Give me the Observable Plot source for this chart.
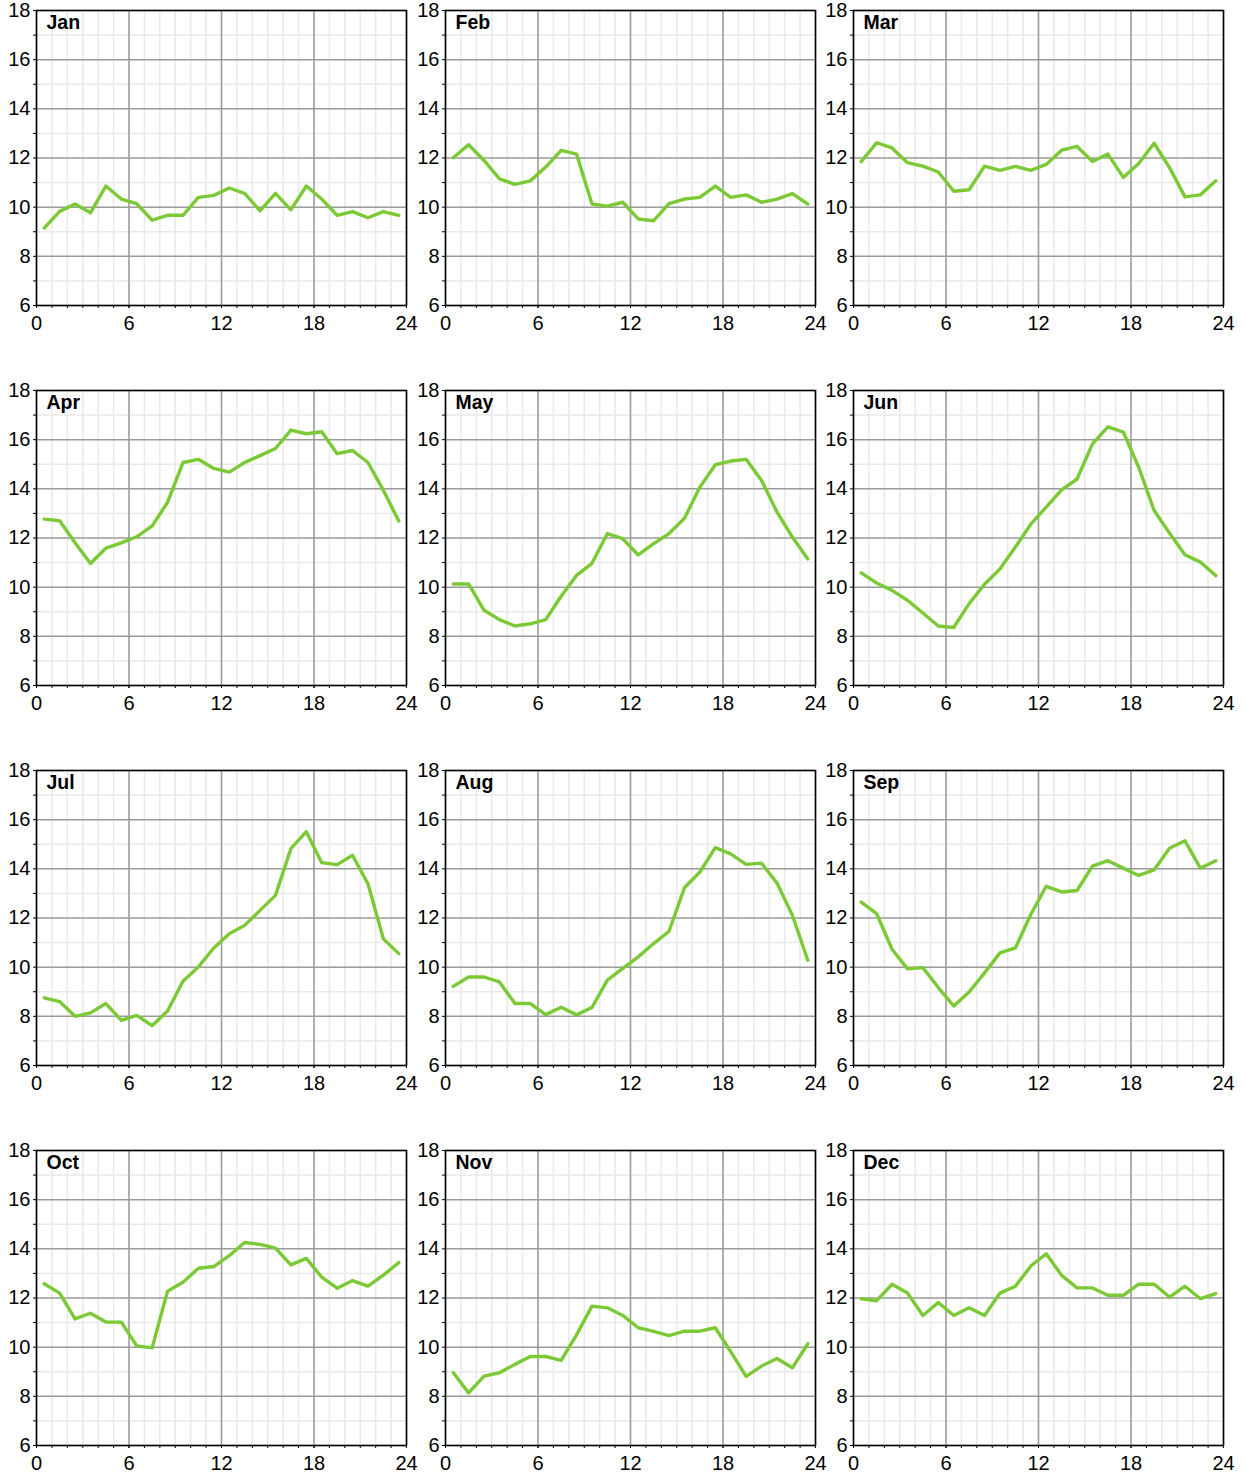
<!DOCTYPE html>
<html><head><meta charset="utf-8">
<script src="https://cdn.jsdelivr.net/npm/d3@7"></script>
<script src="https://cdn.jsdelivr.net/npm/@observablehq/plot@0.6"></script>
<style>
body{margin:0;background:#fff;}
#wrap{position:relative;width:1247px;height:1475px;overflow:hidden;}
#wrap svg{position:absolute;}
</style></head><body><div id="wrap"></div>
<script>
const months = ["Jan","Feb","Mar","Apr","May","Jun","Jul","Aug","Sep","Oct","Nov","Dec"];
const hours = [0.5,1.5,2.5,3.5,4.5,5.5,6.5,7.5,8.5,9.5,10.5,11.5,12.5,13.5,14.5,15.5,16.5,17.5,18.5,19.5,20.5,21.5,22.5,23.5];
const xTicks = [0,6,12,18,24];
const xMinor = [0,1,2,3,4,5,6,7,8,9,10,11,12,13,14,15,16,17,18,19,20,21,22,23,24];
const yTicks = [6,8,10,12,14,16,18];
const yMinor = [7,9,11,13,15,17];

const jan = [9.15,9.83,10.13,9.77,10.86,10.33,10.14,9.47,9.67,9.67,10.4,10.48,10.78,10.56,9.85,10.56,9.89,10.86,10.33,9.67,9.82,9.57,9.82,9.67];
const feb = [12.01,12.54,11.9,11.15,10.93,11.07,11.63,12.31,12.16,10.13,10.04,10.2,9.52,9.45,10.14,10.33,10.4,10.86,10.4,10.5,10.2,10.33,10.55,10.12];
const mar = [11.85,12.62,12.41,11.81,11.67,11.43,10.65,10.71,11.67,11.5,11.66,11.5,11.74,12.32,12.47,11.86,12.16,11.21,11.78,12.6,11.61,10.42,10.5,11.07];
const apr = [12.77,12.7,11.81,10.96,11.59,11.8,12.05,12.49,13.45,15.07,15.2,14.83,14.68,15.07,15.35,15.64,16.39,16.24,16.32,15.43,15.56,15.07,13.94,12.69];
const may = [10.13,10.13,9.06,8.68,8.42,8.51,8.68,9.63,10.48,10.97,12.18,11.97,11.31,11.77,12.18,12.8,14.07,14.98,15.13,15.2,14.34,13.06,12.04,11.15];
const jun = [10.58,10.17,9.87,9.47,8.95,8.42,8.36,9.33,10.12,10.74,11.63,12.56,13.26,13.96,14.4,15.83,16.52,16.31,14.88,13.12,12.2,11.32,11.02,10.47];
const jul = [8.75,8.6,8.0,8.14,8.52,7.84,8.04,7.62,8.22,9.43,10.01,10.78,11.36,11.7,12.31,12.92,14.82,15.51,14.25,14.17,14.55,13.39,11.15,10.55];
const aug = [9.22,9.6,9.6,9.4,8.52,8.52,8.07,8.37,8.06,8.36,9.47,9.95,10.42,10.96,11.46,13.23,13.87,14.86,14.61,14.18,14.23,13.42,12.11,10.28];
const sep = [12.65,12.18,10.73,9.93,9.98,9.17,8.42,8.99,9.77,10.58,10.78,12.14,13.29,13.06,13.12,14.11,14.33,14.03,13.73,13.96,14.84,15.14,14.03,14.33];
const oct = [12.58,12.2,11.15,11.38,11.02,11.02,10.05,9.97,12.28,12.64,13.21,13.28,13.72,14.26,14.18,14.03,13.35,13.61,12.85,12.4,12.71,12.48,12.93,13.44];
const nov = [8.97,8.14,8.82,8.96,9.3,9.62,9.62,9.46,10.5,11.67,11.6,11.29,10.79,10.64,10.47,10.65,10.65,10.79,9.82,8.81,9.23,9.54,9.16,10.14];
const dec = [11.97,11.89,12.56,12.2,11.29,11.82,11.29,11.6,11.29,12.2,12.48,13.3,13.8,12.92,12.41,12.41,12.11,12.11,12.56,12.56,12.04,12.48,11.97,12.18];

const series = [jan,feb,mar,apr,may,jun,jul,aug,sep,oct,nov,dec];
const colLeft = [0, 408.7, 817.3];
const rowTop = [0, 380, 760, 1140];
const wrap = document.getElementById("wrap");

series.forEach((vals, i) => {
  const data = hours.map((h, j) => ({h, v: vals[j]}));
  const p = Plot.plot({
    width: 409, height: 380,
    marginLeft: 36, marginTop: 10, marginRight: 3, marginBottom: 75,
    style: {fontFamily: '"Liberation Sans", Arial, sans-serif', fontSize: "20px", color: "#000", background: "transparent", overflow: "visible"},
    x: {domain: [0, 24]},
    y: {domain: [6, 18]},
    marks: [
      Plot.gridX(xMinor, {stroke: "#e9e9e9", strokeOpacity: 1, strokeWidth: 1.5}),
      Plot.gridY(yMinor, {stroke: "#e9e9e9", strokeOpacity: 1, strokeWidth: 1.5}),
      Plot.gridX(xTicks, {stroke: "#9a9a9a", strokeOpacity: 1, strokeWidth: 1.5}),
      Plot.gridY(yTicks, {stroke: "#9a9a9a", strokeOpacity: 1, strokeWidth: 1.5}),
      Plot.axisX(xMinor, {tickSize: 3, tickFormat: () => "", label: null, stroke: "#000"}),
      Plot.axisX(xTicks, {tickSize: 3, tickPadding: 7, label: null, fontSize: 20, fill: "#000"}),
      Plot.axisY(yMinor, {tickSize: 3, tickFormat: () => "", label: null, stroke: "#000"}),
      Plot.axisY(yTicks, {tickSize: 3, tickPadding: 3, label: null, fontSize: 20, fill: "#000"}),
      Plot.line(data, {x: "h", y: "v", stroke: "#7bc935", strokeWidth: 3.4}),
      Plot.frame({stroke: "#000", strokeWidth: 1.5}),
      Plot.text([months[i]], {frameAnchor: "top-left", dx: 10, dy: 5, lineAnchor: "top", fontWeight: "bold", fontSize: 19.5, fill: "#000"})
    ]
  });
  p.style.left = colLeft[i % 3] + "px";
  p.style.top = rowTop[Math.floor(i / 3)] + "px";
  wrap.appendChild(p);
});
</script></body></html>
